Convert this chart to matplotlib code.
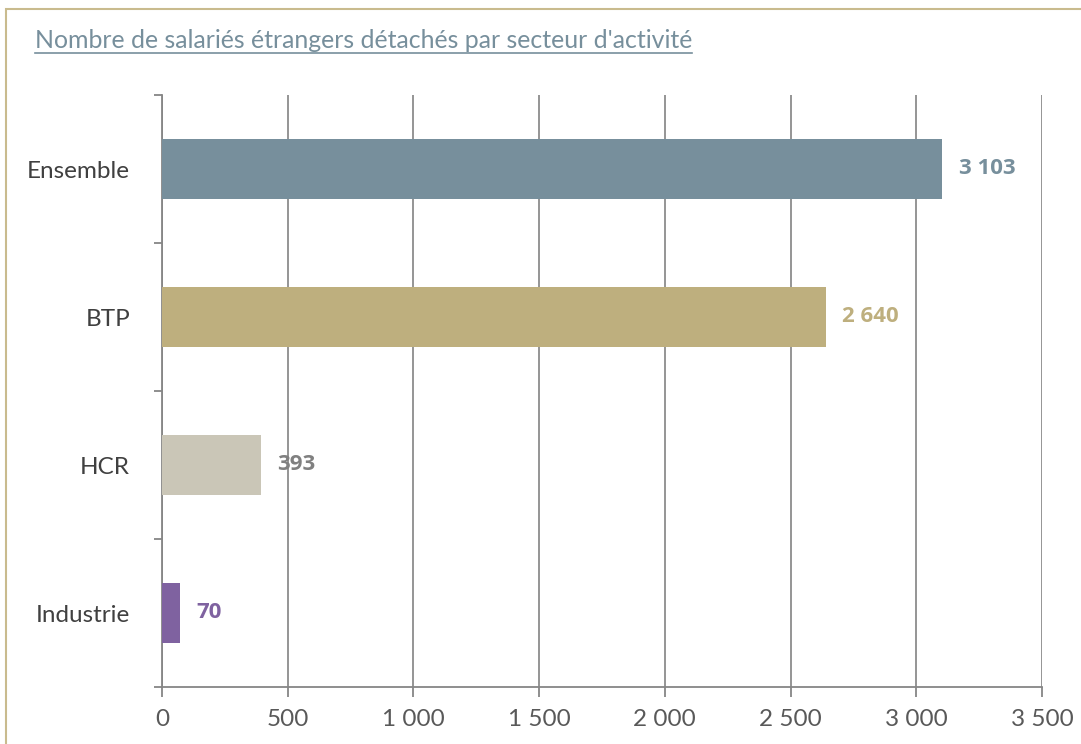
import matplotlib.pyplot as plt
from matplotlib.patches import Rectangle

categories = ["Ensemble", "BTP", "HCR", "Industrie"]
values = [3103, 2640, 393, 70]
bar_colors = ["#778F9C", "#BEAF7E", "#CAC6B7", "#7F62A0"]
label_colors = ["#778F9C", "#BEAF7E", "#808080", "#7F62A0"]
xticks = [0, 500, 1000, 1500, 2000, 2500, 3000, 3500]

plt.rcParams['font.family'] = ['Lato', 'DejaVu Sans']


def fmt(v):
    return f"{v:,}".replace(",", " ")


fig = plt.figure(figsize=(10.81, 7.44), dpi=100)
ax = fig.add_axes([162 / 1081, 1 - 687 / 744, 880 / 1081, 592 / 744])

# outer frame of the chart box
fig.patches.append(Rectangle((6 / 1081, -0.05), 1.1, 1 - 9 / 744 + 0.05,
                             transform=fig.transFigure, fill=False,
                             edgecolor="#C9BB8E", linewidth=1.5))

pos = list(range(len(categories)))
ax.barh(pos, values, height=0.4, color=bar_colors, zorder=3)
for p, v, c in zip(pos, values, label_colors):
    ax.annotate(fmt(v), (v, p), xytext=(12, 0), textcoords="offset points",
                va="center", ha="left", fontsize=16, fontweight="bold",
                family=["Open Sans", "DejaVu Sans"], color=c, zorder=4)

ax.set_xlim(0, 3500)
ax.set_ylim(len(categories) - 0.5, -0.5)
ax.set_xticks(xticks)
ax.set_xticklabels([fmt(t) for t in xticks], fontsize=17.5, color="#595959")
ax.set_yticks(pos)
ax.set_yticklabels(categories, fontsize=17.5, color="#404040")
ax.set_yticks([-0.5, 0.5, 1.5, 2.5, 3.5], minor=True)
ax.tick_params(axis="y", which="major", length=0, pad=23)
ax.tick_params(axis="y", which="minor", length=6, color="#868686", width=1.3)
ax.tick_params(axis="x", length=7, color="#868686", width=1.3, pad=9)

ax.grid(axis="x", color="#8C8C8C", linewidth=1.3, zorder=0)
for s in ["top", "right"]:
    ax.spines[s].set_visible(False)
for s in ["left", "bottom"]:
    ax.spines[s].set_color("#868686")
    ax.spines[s].set_linewidth(1.3)

fig.text(35 / 1081, 1 - 41 / 744,
         "Nombre de salariés étrangers détachés par secteur d'activité",
         fontsize=17.9, color="#778F9C", va="center", ha="left")
# underline of the title
fig.add_artist(plt.Line2D([35 / 1081, 692 / 1081], [1 - 53 / 744, 1 - 53 / 744],
                          color="#778F9C", linewidth=1.2, transform=fig.transFigure))

fig.savefig("out.png", dpi=100)
